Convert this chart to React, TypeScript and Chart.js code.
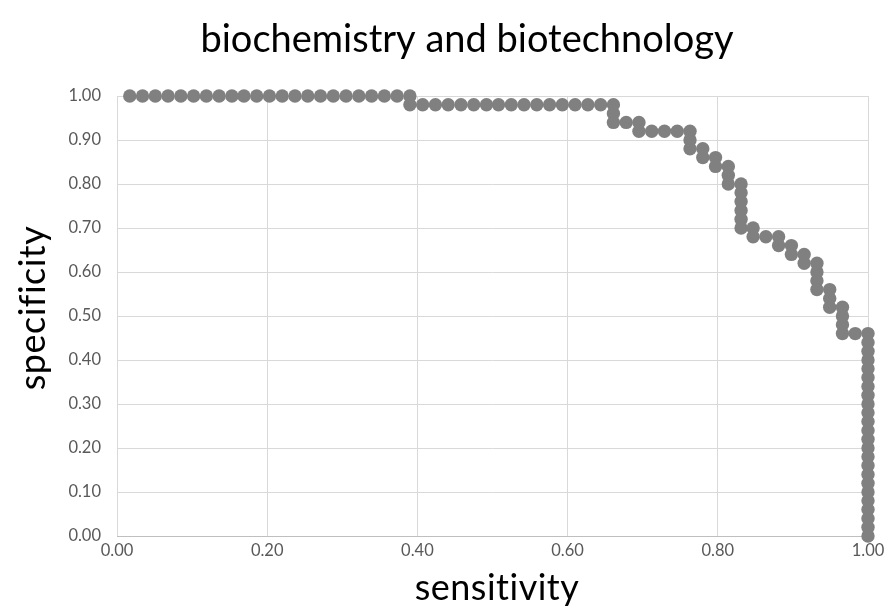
import React, { useEffect, useRef } from "react";
import { Chart, registerables } from "chart.js";

Chart.register(...registerables);

const chartTitle = "biochemistry and biotechnology";
const xAxisTitle = "sensitivity";
const yAxisTitle = "specificity";

// sensitivity (x) values of each point
const sensitivity: number[] = [
  0.017, 0.034, 0.051, 0.068, 0.085, 0.102, 0.119, 0.136, 0.153, 0.169, 0.186, 0.203,
  0.22, 0.237, 0.254, 0.271, 0.288, 0.305, 0.322, 0.339, 0.356, 0.373, 0.39,
  0.39,
  0.407, 0.424, 0.441, 0.458, 0.475, 0.492, 0.508, 0.525, 0.542, 0.559, 0.576, 0.593,
  0.61, 0.627, 0.644, 0.661,
  0.661, 0.661,
  0.678,
  0.695, 0.695,
  0.712, 0.729, 0.746,
  0.763, 0.763, 0.763,
  0.78, 0.78,
  0.797, 0.797,
  0.814, 0.814, 0.814,
  0.831, 0.831, 0.831, 0.831, 0.831, 0.831,
  0.847, 0.847,
  0.864,
  0.881, 0.881,
  0.898, 0.898,
  0.915, 0.915,
  0.932, 0.932, 0.932, 0.932,
  0.949, 0.949, 0.949,
  0.966, 0.966, 0.966, 0.966,
  0.983,
  1.0, 1.0, 1.0, 1.0, 1.0, 1.0, 1.0, 1.0, 1.0, 1.0, 1.0, 1.0,
  1.0, 1.0, 1.0, 1.0, 1.0, 1.0, 1.0, 1.0, 1.0, 1.0, 1.0, 1.0,
];

// specificity (y) values of each point
const specificity: number[] = [
  1.0, 1.0, 1.0, 1.0, 1.0, 1.0, 1.0, 1.0, 1.0, 1.0, 1.0, 1.0,
  1.0, 1.0, 1.0, 1.0, 1.0, 1.0, 1.0, 1.0, 1.0, 1.0, 1.0,
  0.98,
  0.98, 0.98, 0.98, 0.98, 0.98, 0.98, 0.98, 0.98, 0.98, 0.98, 0.98, 0.98,
  0.98, 0.98, 0.98, 0.98,
  0.96, 0.94,
  0.94,
  0.94, 0.92,
  0.92, 0.92, 0.92,
  0.92, 0.9, 0.88,
  0.88, 0.86,
  0.86, 0.84,
  0.84, 0.82, 0.8,
  0.8, 0.78, 0.76, 0.74, 0.72, 0.7,
  0.7, 0.68,
  0.68,
  0.68, 0.66,
  0.66, 0.64,
  0.64, 0.62,
  0.62, 0.6, 0.58, 0.56,
  0.56, 0.54, 0.52,
  0.52, 0.5, 0.48, 0.46,
  0.46,
  0.46, 0.44, 0.42, 0.4, 0.38, 0.36, 0.34, 0.32, 0.3, 0.28, 0.26, 0.24,
  0.22, 0.2, 0.18, 0.16, 0.14, 0.12, 0.1, 0.08, 0.06, 0.04, 0.02, 0.0,
];

const FONT = "Lato, 'Open Sans', sans-serif";

const textPlugin = {
  id: "textLabels",
  afterDraw(chart: any) {
    const ctx = chart.ctx;
    ctx.save();
    ctx.fillStyle = "#000000";
    ctx.textAlign = "center";
    ctx.textBaseline = "middle";
    ctx.font = `38px ${FONT}`;
    ctx.fillText(chartTitle, 467, 40);
    ctx.font = `36px ${FONT}`;
    (ctx as any).letterSpacing = "0.5px";
    ctx.fillText(xAxisTitle, 497, 588);
    ctx.translate(33, 308);
    ctx.rotate(-Math.PI / 2);
    ctx.fillText(yAxisTitle, 0, 0);
    ctx.restore();
  },
};

export default function App() {
  const ref = useRef<HTMLCanvasElement>(null);
  useEffect(() => {
    if (!ref.current) return;
    const points = sensitivity.map((x, i) => ({ x, y: specificity[i] }));
    const chart = new Chart(ref.current, {
      type: "scatter",
      data: {
        datasets: [
          {
            data: points,
            backgroundColor: "#808080",
            borderWidth: 0,
            pointRadius: 6.7,
            pointHoverRadius: 6.7,
            showLine: false,
            clip: false as any,
          },
        ],
      },
      plugins: [textPlugin],
      options: {
        animation: false,
        responsive: false,
        maintainAspectRatio: false,
        layout: { padding: { top: 96, right: 22, left: 0, bottom: 0 } },
        plugins: {
          legend: { display: false },
          title: { display: false },
          tooltip: { enabled: false },
        },
        scales: {
          x: {
            type: "linear",
            min: 0,
            max: 1,
            afterFit: (s: any) => {
              s.height = 77;
            },
            ticks: {
              stepSize: 0.2,
              padding: 5,
              color: "#595959",
              font: { family: FONT, size: 16.5 },
              callback: (v: any) => Number(v).toFixed(2),
            },
            grid: { color: "#d9d9d9", drawTicks: false, lineWidth: 1 },
            border: { display: true, color: "#bfbfbf" },
          },
          y: {
            type: "linear",
            min: 0,
            max: 1,
            afterFit: (s: any) => {
              s.width = 117;
            },
            ticks: {
              stepSize: 0.1,
              padding: 16,
              color: "#595959",
              font: { family: FONT, size: 16.5 },
              callback: (v: any) => Number(v).toFixed(2),
            },
            grid: { color: "#d9d9d9", drawTicks: false, lineWidth: 1 },
            border: { display: false },
          },
        },
      },
    });
    return () => chart.destroy();
  }, []);
  return (
    <div style={{ position: "fixed", left: 0, top: 0, width: 890, height: 613, background: "#fff" }}>
      <canvas ref={ref} width={890} height={613} style={{ width: 890, height: 613 }} />
    </div>
  );
}
